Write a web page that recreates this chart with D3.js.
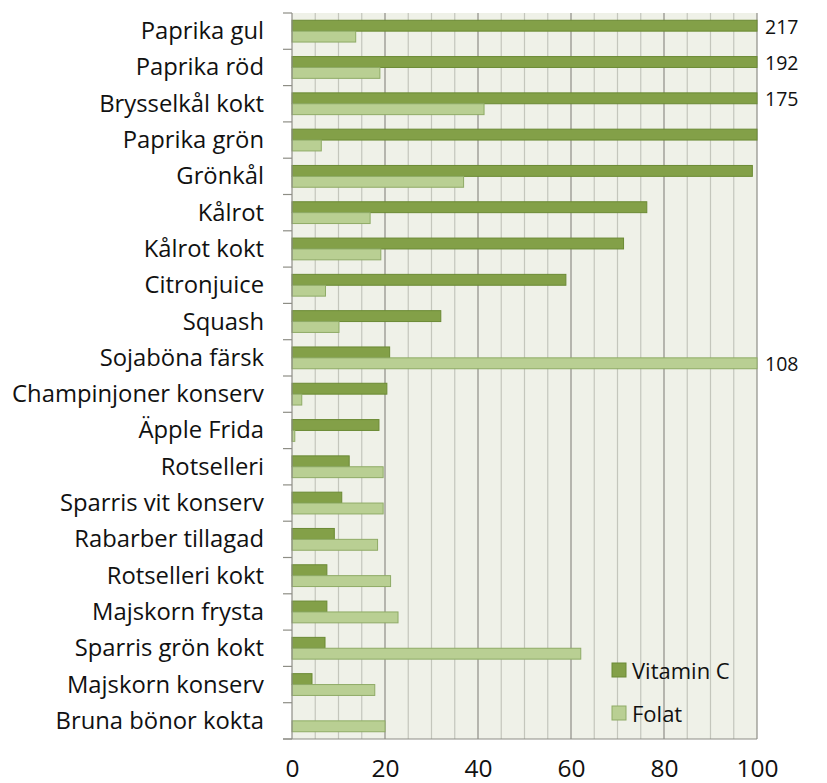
<!DOCTYPE html>
<html><head><meta charset="utf-8">
<script src="https://cdn.jsdelivr.net/npm/d3@7"></script>
<style>html,body{margin:0;padding:0;background:#fff;}svg{display:block;}</style>
</head><body>
<svg id="chart" width="827" height="783"></svg>
<script>
const categories = ["Paprika gul","Paprika röd","Brysselkål kokt","Paprika grön","Grönkål","Kålrot","Kålrot kokt","Citronjuice","Squash","Sojaböna färsk","Champinjoner konserv","Äpple Frida","Rotselleri","Sparris vit konserv","Rabarber tillagad","Rotselleri kokt","Majskorn frysta","Sparris grön kokt","Majskorn konserv","Bruna bönor kokta"];
const vitaminC = [217,192,175,100,99,76.3,71.3,58.9,32,21,20.4,18.7,12.3,10.7,9.1,7.5,7.5,7.1,4.3,0];
const folat = [13.7,18.9,41.3,6.3,36.9,16.8,19.1,7.2,10.1,108,2.1,0.6,19.6,19.6,18.4,21.2,22.8,62.1,17.8,20];
const seriesNames = ["Vitamin C","Folat"];
const xTicks = [0,20,40,60,80,100];

const colors = {"Vitamin C":"#83a048","Folat":"#b9cf93"};
const strokes = {"Vitamin C":"#6b8a34","Folat":"#8fab66"};
const font = "'Open Sans', sans-serif";

const svg = d3.select("#chart");
const L = 292, R = 757, T = 13, B = 739;
const x = d3.scaleLinear().domain([0,100]).range([L,R]);
const y = d3.scaleBand().domain(categories).range([T,B]).paddingInner(0.4).paddingOuter(0.2);
const yb = d3.scaleBand().domain(categories).range([T,B]);
const sub = d3.scaleBand().domain(seriesNames).range([0,y.bandwidth()]);

// plot background
svg.append("rect").attr("x",L).attr("y",T).attr("width",R-L).attr("height",B-T).attr("fill","#eff1e8");

// gridlines
const grid = d3.range(5,101,5);
svg.append("g").selectAll("line").data(grid).join("line")
  .attr("x1",d=>x(d)).attr("x2",d=>x(d)).attr("y1",T).attr("y2",B)
  .attr("stroke",d=>d%20===0?"#8e8e86":"#c4c6bc").attr("stroke-width",1.2);

// bars
const data = [];
categories.forEach((c,i)=>{
  data.push({c, s:"Vitamin C", v:vitaminC[i]});
  data.push({c, s:"Folat", v:folat[i]});
});
svg.append("g").selectAll("rect").data(data.filter(d=>d.v>0)).join("rect")
  .attr("x",x(0))
  .attr("y",d=>y(d.c)+sub(d.s))
  .attr("width",d=>x(Math.min(d.v,100))-x(0))
  .attr("height",sub.bandwidth())
  .attr("fill",d=>colors[d.s]).attr("stroke",d=>strokes[d.s]).attr("stroke-width",1);

// over-range value labels
svg.append("g").selectAll("text").data(data.filter(d=>d.v>100)).join("text")
  .attr("x",R+8).attr("y",d=>y(d.c)+sub(d.s)+sub.bandwidth()/2+8)
  .attr("font-family",font).attr("font-size",19.5).attr("fill","#111")
  .text(d=>d.v);

// left axis
const ax = svg.append("g").attr("transform",`translate(${L},0)`);
ax.append("line").attr("x1",0).attr("x2",0).attr("y1",T).attr("y2",B).attr("stroke","#8e8e86").attr("stroke-width",1.2);
const bounds = categories.map(c=>yb(c)).concat([B]);
ax.selectAll("line.tk").data(bounds).join("line").attr("class","tk")
  .attr("x1",-9).attr("x2",0).attr("y1",d=>d).attr("y2",d=>d).attr("stroke","#8e8e86").attr("stroke-width",1.2);
ax.selectAll("text").data(categories).join("text")
  .attr("x",264-L).attr("y",d=>yb(d)+yb.bandwidth()/2+8)
  .attr("text-anchor","end").attr("font-family",font).attr("font-size",23.8).attr("fill","#111")
  .text(d=>d);

// bottom axis
svg.append("line").attr("x1",283).attr("x2",R).attr("y1",B).attr("y2",B).attr("stroke","#8e8e86").attr("stroke-width",1.2);
const xAxis = d3.axisBottom(x).tickValues(xTicks).tickSize(0).tickPadding(0);
const gx = svg.append("g").attr("transform",`translate(0,${B})`).call(xAxis);
gx.select(".domain").remove();
gx.selectAll("text").attr("font-family",font).attr("font-size",24.5).attr("fill","#111").attr("dy",null).attr("y",38);

// legend
const lg = svg.append("g");
seriesNames.forEach((s,i)=>{
  const yy = 663 + i*43;
  lg.append("rect").attr("x",612).attr("y",yy).attr("width",14).attr("height",14)
    .attr("fill",colors[s]).attr("stroke",strokes[s]);
  lg.append("text").attr("x",632).attr("y",yy+15.5).attr("font-family",font).attr("font-size",22).attr("fill","#111").text(s);
});
</script>
</body></html>
